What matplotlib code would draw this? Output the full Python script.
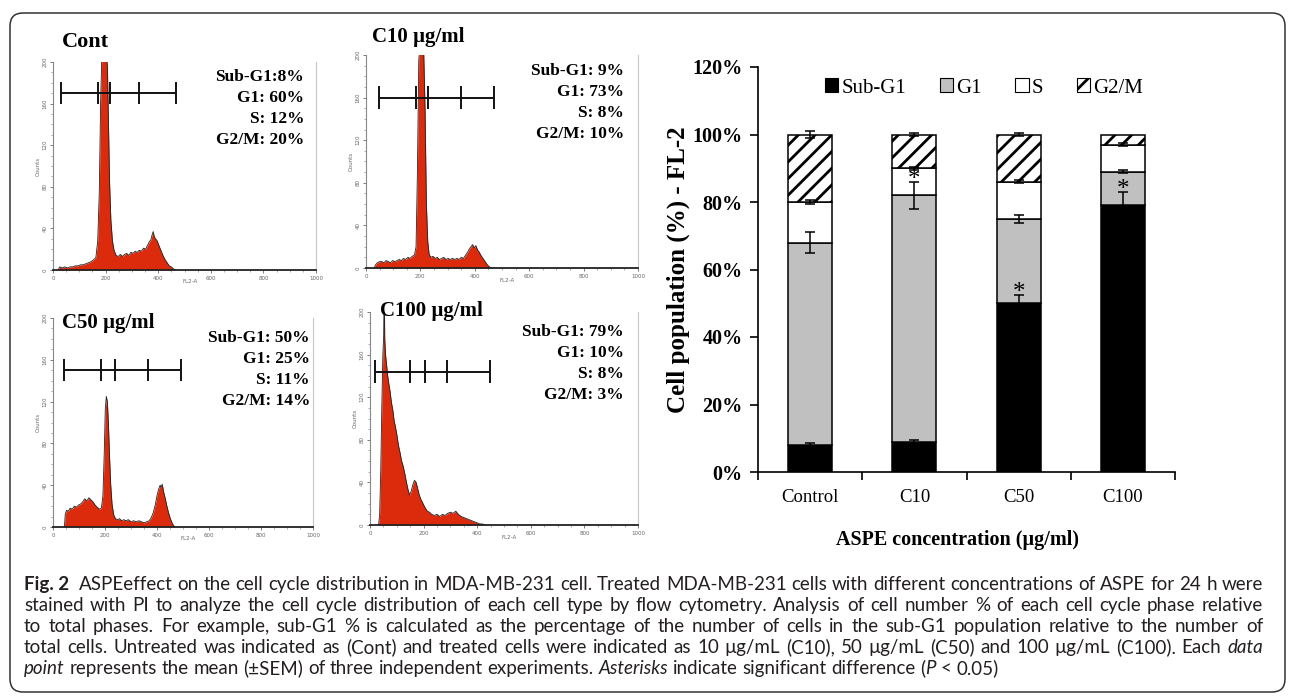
import matplotlib
matplotlib.use('Agg')
import matplotlib.pyplot as plt
import numpy as np
from matplotlib.patches import FancyBboxPatch, Patch
from matplotlib.transforms import IdentityTransform
from matplotlib.ticker import MultipleLocator

# ---------------- data ----------------
categories = ['Control', 'C10', 'C50', 'C100']
phases = ['Sub-G1', 'G1', 'S', 'G2/M']
subg1 = [8, 9, 50, 79]
g1 = [60, 73, 25, 10]
s_phase = [12, 8, 11, 8]
g2m = [20, 10, 14, 3]
err_subg1 = [0.5, 0.5, 2.5, 4.0]
err_g1 = [3.0, 4.0, 1.2, 0.5]
err_s = [0.5, 0.4, 0.5, 0.4]
err_g2m = [1.0, 0.5, 0.5, 0.0]
significant = [None, 'G1', 'Sub-G1', 'Sub-G1']

# flow-cytometry histograms (FL2-A channel vs counts)
cont_x = [20, 25, 35, 45, 55, 65, 75, 85, 95, 105, 115, 125, 135, 145, 155, 163, 170, 176, 181, 186,
          190, 196, 202, 207, 211, 215, 220, 226, 232, 240, 248, 256, 264, 272, 280, 288, 296, 304, 312, 320,
          328, 336, 344, 352, 360, 366, 372, 377, 381, 385, 390, 396, 402, 410, 418, 426, 434, 442, 450, 458, 466]
cont_y = [0, 3, 2, 3, 2, 3, 3, 4, 4, 5, 5, 6, 7, 8, 10, 12, 28, 75, 160, 210,
          215, 215, 210, 195, 140, 85, 48, 28, 19, 14, 13, 15, 13, 15, 16, 14, 17, 16, 18, 17,
          19, 18, 21, 20, 24, 27, 29, 34, 37, 32, 30, 28, 24, 19, 14, 10, 7, 4, 3, 1, 0]
c10_x = [30, 35, 42, 50, 58, 66, 74, 82, 90, 98, 106, 114, 122, 130, 138, 146, 154, 162, 170, 178,
         184, 189, 194, 200, 206, 212, 217, 222, 227, 232, 238, 246, 254, 262, 270, 278, 286, 294, 302, 310,
         318, 326, 334, 342, 350, 358, 366, 374, 380, 386, 392, 398, 404, 410, 416, 422, 430, 438, 446, 454, 462]
c10_y = [0, 3, 5, 6, 6, 5, 7, 6, 5, 7, 6, 7, 8, 7, 9, 8, 10, 9, 11, 12,
         20, 90, 195, 215, 215, 205, 150, 60, 25, 13, 10, 11, 9, 10, 8, 9, 10, 8, 9, 8,
         9, 8, 9, 8, 10, 9, 12, 15, 18, 20, 22, 19, 21, 17, 15, 12, 9, 6, 3, 1, 0]
c50_x = [44, 47, 52, 58, 66, 74, 82, 90, 98, 106, 114, 122, 130, 138, 146, 154, 162, 170, 178, 186,
         192, 197, 201, 205, 209, 213, 217, 222, 227, 233, 240, 248, 256, 264, 272, 280, 290, 300, 310, 320,
         330, 340, 350, 360, 370, 378, 386, 394, 400, 406, 412, 416, 420, 426, 432, 438, 444, 450, 456, 462, 468]
c50_y = [0, 12, 16, 15, 18, 17, 20, 19, 21, 22, 24, 27, 25, 28, 26, 24, 21, 19, 17, 18,
         30, 70, 112, 125, 120, 100, 70, 40, 22, 12, 8, 7, 8, 6, 7, 6, 7, 5, 6, 5,
         6, 5, 4, 5, 6, 9, 14, 22, 30, 36, 40, 38, 41, 33, 27, 20, 14, 9, 5, 2, 0]
c100_x = [32, 36, 40, 44, 48, 51, 53, 55, 58, 62, 66, 70, 75, 80, 85, 90, 95, 100, 106, 112,
          118, 124, 130, 136, 142, 148, 154, 160, 166, 172, 178, 184, 190, 198, 206, 214, 222, 230, 240, 250,
          260, 270, 280, 290, 300, 310, 320, 330, 340, 350, 360, 370, 380, 390, 400, 410, 420, 430]
c100_y = [0, 10, 50, 110, 160, 178, 230, 175, 160, 150, 140, 133, 125, 115, 108, 98, 92, 85, 75, 68,
          60, 55, 48, 40, 33, 28, 32, 38, 42, 40, 34, 28, 24, 20, 16, 13, 12, 10, 9, 10,
          8, 10, 9, 11, 12, 11, 13, 10, 8, 7, 6, 5, 4, 3, 2, 1, 1, 0]

cont_markers = [32, 172, 215, 327, 467]
c10_markers = [49, 182, 227, 350, 470]
c50_markers = [42, 186, 237, 365, 491]
c100_markers = [19, 148, 207, 287, 448]
marker_levels = [170, 160, 150, 144]

panel_titles = ['Cont', 'C10 µg/ml', 'C50 µg/ml', 'C100 µg/ml']
panel_stats = [
    ['Sub-G1:8%', 'G1: 60%', 'S: 12%', 'G2/M: 20%'],
    ['Sub-G1: 9%', 'G1: 73%', 'S: 8%', 'G2/M: 10%'],
    ['Sub-G1: 50%', 'G1: 25%', 'S: 11%', 'G2/M: 14%'],
    ['Sub-G1: 79%', 'G1: 10%', 'S: 8%', 'G2/M: 3%'],
]

caption_lines = [
    "**Fig.~2**  ASPEeffect on the cell cycle distribution in MDA-MB-231 cell. Treated MDA-MB-231 cells with different concentrations of ASPE for 24 h were",
    "stained with PI to analyze the cell cycle distribution of each cell type by flow cytometry. Analysis of cell number % of each cell cycle phase relative",
    "to total phases. For example, sub-G1 % is calculated as the percentage of the number of cells in the sub-G1 population relative to the number of",
    "total cells. Untreated was indicated as (Cont) and treated cells were indicated as 10 µg/mL (C10), 50 µg/mL (C50) and 100 µg/mL (C100). Each _data_",
    "_point_ represents the mean (±SEM) of three independent experiments. _Asterisks_ indicate significant difference (_P_ < 0.05)",
]

# ---------------- figure ----------------
W, H = 1295, 700
fig = plt.figure(figsize=(W / 100, H / 100), dpi=100)
SERIF = ['Liberation Serif', 'DejaVu Serif']
CAPFONT = ['Lato', 'DejaVu Sans']
RED = '#dc2a0c'


def ax_px(x0, y0, x1, y1):
    return fig.add_axes([x0 / W, 1 - y1 / H, (x1 - x0) / W, (y1 - y0) / H])


def ftext(x, y, s, **kw):
    return fig.text(x / W, 1 - y / H, s, **kw)


# outer rounded frame
frame = FancyBboxPatch((10, H - 692), 1275, 679, boxstyle="round,pad=0,rounding_size=13",
                       transform=IdentityTransform(), facecolor='none', edgecolor='#333333', lw=1.1)
fig.add_artist(frame)

# ---------------- histogram panels ----------------
hist_x = [cont_x, c10_x, c50_x, c100_x]
hist_y = [cont_y, c10_y, c50_y, c100_y]
markers = [cont_markers, c10_markers, c50_markers, c100_markers]
rects = [(53, 62, 316, 270), (366, 55, 638, 268), (53, 318, 313, 527), (370, 312, 638, 525)]
title_pos = [(62, 42), (372, 37), (62, 323), (380, 311)]
title_fs = [16, 15, 15, 15]
stats_pos = [(304, 77), (624, 71), (310, 338), (624, 332)]

for i in range(4):
    ax = ax_px(*rects[i])
    ax.fill_between(hist_x[i], hist_y[i], 0, color=RED, lw=0)
    ax.plot(hist_x[i], hist_y[i], color='#222222', lw=0.6)
    ax.set_xlim(0, 1000)
    ax.set_ylim(0, 200)
    ax.spines['top'].set_visible(False)
    ax.spines['right'].set_color('#c8c8c8')
    ax.spines['right'].set_linewidth(0.8)
    ax.spines['left'].set_color('#888888')
    ax.spines['left'].set_linewidth(0.8)
    ax.spines['bottom'].set_color('#222222')
    ax.spines['bottom'].set_linewidth(1.3)
    ax.set_xticks(range(0, 1001, 200))
    ax.xaxis.set_minor_locator(MultipleLocator(50))
    ax.set_yticks(range(0, 201, 40))
    ax.yaxis.set_minor_locator(MultipleLocator(10))
    ax.tick_params(axis='both', which='major', labelsize=4, colors='#666666', length=2.5, width=0.6, pad=1.5)
    ax.tick_params(axis='both', which='minor', colors='#888888', length=1.5, width=0.5)
    for lab in ax.get_yticklabels():
        lab.set_rotation(90)
        lab.set_va('center')
    ax.set_xlabel('FL2-A', fontsize=4, color='#666666', labelpad=-3)
    ax.xaxis.set_label_coords(0.52, -0.045)
    ax.set_ylabel('Counts', fontsize=4, color='#666666', labelpad=1)
    m = markers[i]
    lvl = marker_levels[i]
    ax.plot([m[0], m[-1]], [lvl, lvl], color='#111111', lw=1.4, solid_capstyle='butt')
    ax.vlines(m, lvl - 10.5, lvl + 10.5, color='#111111', lw=1.4)

    ftext(title_pos[i][0], title_pos[i][1], panel_titles[i], fontfamily=SERIF, fontweight='bold',
          fontsize=title_fs[i], ha='left', va='center')
    sx, sy = stats_pos[i]
    for k, line in enumerate(panel_stats[i]):
        ftext(sx, sy + 21 * k, line, fontfamily=SERIF, fontweight='bold', fontsize=12.5,
              ha='right', va='center')

# ---------------- stacked bar chart ----------------
axb = ax_px(758, 67, 1175, 472)
xpos = np.arange(len(categories))
bw = 0.42
series = [subg1, g1, s_phase, g2m]
errs = [err_subg1, err_g1, err_s, err_g2m]
colors = ['black', '#c0c0c0', 'white', 'white']
hatches = [None, None, None, '//']
plt.rcParams['hatch.linewidth'] = 2.0
bottom = np.zeros(len(categories))
tops = {}
for name, vals, col, hat in zip(phases, series, colors, hatches):
    vals = np.array(vals, dtype=float)
    axb.bar(xpos, vals, bw, bottom=bottom, color=col, edgecolor='black', linewidth=1.1,
            hatch=hat, zorder=2)
    bottom = bottom + vals
    tops[name] = bottom.copy()
for name, e in zip(phases, errs):
    e = np.array(e, dtype=float)
    mask = e > 0
    axb.errorbar(xpos[mask], tops[name][mask], yerr=e[mask], fmt='none', ecolor='black',
                 elinewidth=1.1, capsize=3.5, capthick=1.1, zorder=3)
err_map = dict(zip(phases, errs))
for i, ph in enumerate(significant):
    if ph is None:
        continue
    ytop = tops[ph][i] + err_map[ph][i]
    axb.annotate('*', xy=(xpos[i], ytop + 2.3), xytext=(0, -8.5), textcoords='offset points',
                 ha='center', va='baseline', fontsize=18, fontfamily=SERIF, zorder=4)

axb.set_xlim(-0.5, len(categories) - 0.5)
axb.set_ylim(0, 120)
axb.set_yticks(range(0, 121, 20))
axb.set_yticklabels([f'{v}%' for v in range(0, 121, 20)], fontfamily=SERIF, fontweight='bold',
                    fontsize=14.5)
axb.set_xticks(np.arange(-0.5, len(categories), 1.0))
axb.set_xticklabels([])
axb.set_xticks(xpos, minor=True)
axb.set_xticklabels(categories, minor=True, fontfamily=SERIF, fontsize=13.5)
axb.tick_params(axis='x', which='minor', length=0, pad=12)
axb.tick_params(axis='x', which='major', direction='out', length=6, width=1.2)
axb.tick_params(axis='y', direction='out', length=6, width=1.2, pad=5)
for sp in ['top', 'right']:
    axb.spines[sp].set_visible(False)
for sp in ['left', 'bottom']:
    axb.spines[sp].set_linewidth(1.2)

ftext(958, 540, 'ASPE concentration (µg/ml)', fontfamily=SERIF, fontweight='bold', fontsize=14.5,
      ha='center', va='center')
ftext(678, 270, 'Cell population (%) - FL-2', fontfamily=SERIF, fontweight='bold', fontsize=18,
      ha='center', va='center', rotation=90)

handles = [Patch(facecolor=c, edgecolor='black', hatch=h, linewidth=0.8) for c, h in zip(colors, hatches)]
fig.legend(handles, phases, loc='center', bbox_to_anchor=(984 / W, 1 - 88 / H), ncol=4, frameon=False,
           prop={'family': SERIF, 'size': 15}, handlelength=0.65, handleheight=0.65,
           handletextpad=0.15, columnspacing=1.6)

# ---------------- caption (justified) ----------------
renderer = fig.canvas.get_renderer()


def parse_word(word):
    segs = []
    style, weight = 'normal', 'normal'
    buf = ''
    i = 0
    while i < len(word):
        if word.startswith('**', i):
            if buf:
                segs.append((buf, style, weight))
                buf = ''
            weight = 'bold' if weight == 'normal' else 'normal'
            i += 2
            continue
        ch = word[i]
        if ch == '_':
            if buf:
                segs.append((buf, style, weight))
                buf = ''
            style = 'italic' if style == 'normal' else 'normal'
        elif ch == '~':
            buf += ' '
        else:
            buf += ch
        i += 1
    if buf:
        segs.append((buf, style, weight))
    return segs


def measure(s, fs, style='normal', weight='normal'):
    t = fig.text(0, 0, s, fontsize=fs, family=CAPFONT, style=style, weight=weight)
    w = t.get_window_extent(renderer).width
    t.remove()
    return w


left_x, right_x = 24, 1263
base_fs = 10.0
space10 = measure('a a', base_fs) - measure('aa', base_fs)
nat_widths = []
for line in caption_lines[:-1]:
    wds = [parse_word(w) for w in line.split(' ')]
    nat = sum(measure(s, base_fs, st, wt) for wd in wds for (s, st, wt) in wd) + space10 * (len(wds) - 1)
    nat_widths.append(nat)
cap_fs = base_fs * (right_x - left_x) / max(nat_widths)

baselines = [590, 611, 632, 653, 674]
space_w = measure('a a', cap_fs) - measure('aa', cap_fs)
for li, line in enumerate(caption_lines):
    words = [parse_word(w) for w in line.split(' ')]
    placed = []
    widths = []
    for wd in words:
        items = []
        wsum = 0
        for (s, st, wt) in wd:
            t = fig.text(0, 0, s, fontsize=cap_fs, family=CAPFONT, style=st, weight=wt,
                         color='#231f20', va='baseline', ha='left', transform=IdentityTransform())
            ww = t.get_window_extent(renderer).width
            items.append((t, wsum))
            wsum += ww
        placed.append(items)
        widths.append(wsum)
    n = len(words)
    if li < len(caption_lines) - 1:
        gap = (right_x - left_x - sum(widths)) / (n - 1)
    else:
        gap = space_w
    x = left_x
    yb = H - baselines[li]
    for items, wsum in zip(placed, widths):
        for t, off in items:
            t.set_position((x + off, yb))
        x += wsum + gap

fig.savefig('out.png', dpi=100)
